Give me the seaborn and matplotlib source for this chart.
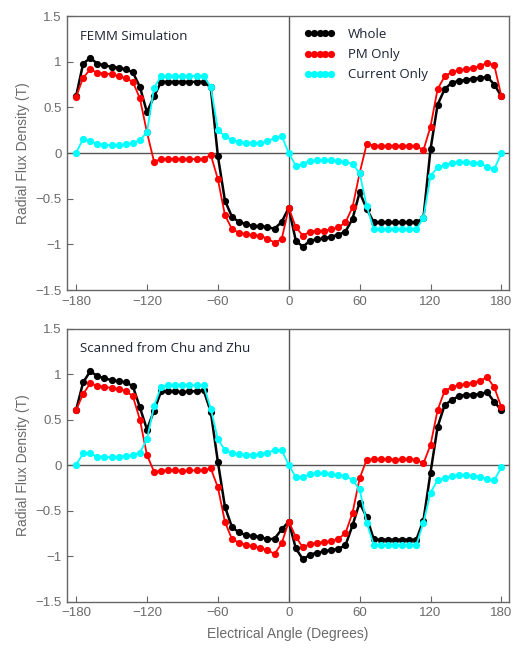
import numpy as np
import pandas as pd
import matplotlib
matplotlib.use("Agg")
import matplotlib.pyplot as plt
import seaborn as sns

# electrical angle grid (degrees)
angles = list(range(-180, 181, 6))

# FEMM simulation
femm_whole = [0.62, 0.98, 1.04, 0.98, 0.96, 0.945, 0.935, 0.915, 0.885, 0.725,
              0.447, 0.62, 0.78, 0.78, 0.78, 0.78, 0.78, 0.78, 0.78, 0.72,
              -0.03, -0.52, -0.70, -0.755, -0.777, -0.80, -0.80, -0.813, -0.828, -0.755,
              -0.60, -0.96, -1.026, -0.96, -0.945, -0.935, -0.916, -0.894, -0.86, -0.72,
              -0.43, -0.61, -0.76, -0.76, -0.76, -0.76, -0.76, -0.76, -0.76, -0.71,
              0.04, 0.53, 0.70, 0.77, 0.79, 0.80, 0.816, 0.82, 0.835, 0.75, 0.62]
femm_pm = [0.615, 0.824, 0.916, 0.88, 0.87, 0.865, 0.84, 0.82, 0.78, 0.60,
           0.227, -0.095, -0.066, -0.066, -0.066, -0.066, -0.066, -0.066, -0.066, -0.018,
           -0.286, -0.678, -0.835, -0.872, -0.89, -0.90, -0.905, -0.938, -0.98, -0.945,
           -0.60, -0.813, -0.905, -0.86, -0.85, -0.85, -0.835, -0.813, -0.76, -0.593,
           -0.22, 0.10, 0.08, 0.08, 0.08, 0.08, 0.08, 0.08, 0.08, 0.03,
           0.29, 0.70, 0.84, 0.886, 0.905, 0.92, 0.935, 0.95, 0.99, 0.96, 0.62]
femm_current = [0.0, 0.157, 0.128, 0.10, 0.088, 0.088, 0.088, 0.095, 0.11, 0.14,
                0.227, 0.714, 0.842, 0.842, 0.842, 0.842, 0.842, 0.842, 0.842, 0.725,
                0.256, 0.183, 0.147, 0.117, 0.11, 0.11, 0.11, 0.128, 0.165, 0.19,
                0.0, -0.14, -0.117, -0.088, -0.08, -0.08, -0.08, -0.085, -0.10, -0.117,
                -0.22, -0.58, -0.835, -0.835, -0.835, -0.835, -0.835, -0.835, -0.835, -0.71,
                -0.25, -0.158, -0.13, -0.11, -0.10, -0.10, -0.11, -0.11, -0.155, -0.176, 0.0]

# scanned from Chu and Zhu
scan_whole = [0.604, 0.908, 1.03, 0.978, 0.952, 0.934, 0.92, 0.908, 0.868, 0.634,
              0.39, 0.597, 0.81, 0.81, 0.81, 0.80, 0.81, 0.81, 0.82, 0.586,
              0.037, -0.458, -0.685, -0.74, -0.773, -0.78, -0.79, -0.817, -0.81, -0.707,
              -0.623, -0.916, -1.037, -0.985, -0.963, -0.95, -0.934, -0.92, -0.883, -0.663,
              -0.414, -0.575, -0.817, -0.82, -0.82, -0.82, -0.82, -0.82, -0.82, -0.61,
              -0.084, 0.42, 0.66, 0.714, 0.758, 0.77, 0.773, 0.78, 0.80, 0.692, 0.604]
scan_pm = [0.604, 0.78, 0.897, 0.872, 0.86, 0.846, 0.835, 0.813, 0.758, 0.50,
           0.11, -0.073, -0.062, -0.06, -0.06, -0.062, -0.06, -0.06, -0.06, -0.037,
           -0.245, -0.623, -0.817, -0.853, -0.879, -0.89, -0.916, -0.934, -0.978, -0.861,
           -0.623, -0.79, -0.905, -0.868, -0.853, -0.846, -0.839, -0.81, -0.75, -0.524,
           -0.147, 0.06, 0.062, 0.062, 0.062, 0.06, 0.062, 0.062, 0.06, 0.018,
           0.22, 0.604, 0.817, 0.853, 0.879, 0.89, 0.905, 0.927, 0.963, 0.853, 0.634]
scan_current = [0.0, 0.128, 0.128, 0.092, 0.092, 0.084, 0.092, 0.10, 0.11, 0.136,
                0.282, 0.648, 0.86, 0.875, 0.875, 0.875, 0.875, 0.875, 0.875, 0.62,
                0.282, 0.165, 0.136, 0.117, 0.11, 0.11, 0.117, 0.136, 0.165, 0.165,
                0.0, -0.135, -0.135, -0.10, -0.092, -0.092, -0.10, -0.11, -0.12, -0.165,
                -0.267, -0.634, -0.879, -0.879, -0.879, -0.879, -0.879, -0.879, -0.879, -0.634,
                -0.304, -0.165, -0.147, -0.12, -0.114, -0.114, -0.12, -0.128, -0.158, -0.165, -0.026]

series_names = ["Whole", "PM Only", "Current Only"]
colors = {"Whole": "black", "PM Only": "#ff0000", "Current Only": "#00ffff"}
widths = {"Whole": 1.8, "PM Only": 1.3, "Current Only": 1.3}

panels = [
    ("FEMM Simulation", [femm_whole, femm_pm, femm_current]),
    ("Scanned from Chu and Zhu", [scan_whole, scan_pm, scan_current]),
]

sns.set_style("white")
plt.rcParams['font.family'] = ['Liberation Sans', 'DejaVu Sans']

gray = "#6a6a6a"
frame = "#666666"

fig = plt.figure(figsize=(5.2, 6.5), dpi=100)
axes = [fig.add_axes([0.129, 0.5538, 0.850, 0.4215]),
        fig.add_axes([0.129, 0.0746, 0.850, 0.4200])]

for ax, (title, vals) in zip(axes, panels):
    ax.axhline(0, color="#555555", lw=1.0, zorder=1)
    ax.axvline(0, color="#555555", lw=1.0, zorder=1)
    for name, v in zip(series_names, vals):
        df = pd.DataFrame({"angle": angles, "B": v})
        sns.lineplot(data=df, x="angle", y="B", ax=ax, color=colors[name],
                     lw=widths[name], marker="o", markersize=5.2,
                     markeredgewidth=0, label=name, zorder=3)
    ax.set_xlim(-187.6, 186.5)
    ax.set_ylim(-1.5, 1.5)
    ax.set_xticks([-180, -120, -60, 0, 60, 120, 180])
    ax.set_xticklabels(["\u2212180", "\u2212120", "\u221260", "0", "60", "120", "180"])
    ax.set_yticks([-1.5, -1, -0.5, 0, 0.5, 1, 1.5])
    ax.set_yticklabels(["\u22121.5", "\u22121", "\u22120.5", "0", "0.5", "1", "1.5"])
    ax.tick_params(direction="in", length=4, width=0.8, color=frame,
                   labelcolor=gray, labelsize=9.5, pad=4,
                   bottom=True, left=True, top=False, right=False)
    for sp in ax.spines.values():
        sp.set_color(frame)
        sp.set_linewidth(1.0)
    ax.set_ylabel("Radial Flux Density (T)", color=gray, fontsize=10, labelpad=4)
    ax.set_xlabel("")
    ax.text(0.03, 0.925, title, transform=ax.transAxes, fontsize=9.5,
            family=["Open Sans", "DejaVu Sans"], color="#1a2233", va="center")
    ax.get_legend().remove()

leg = axes[0].legend(loc="upper left", bbox_to_anchor=(0.51, 1.0), frameon=False,
                     numpoints=5, handlelength=2.3, labelspacing=0.55,
                     handletextpad=1.0, prop={"family": "Open Sans", "size": 9.5})
for t in leg.get_texts():
    t.set_color("#1a2233")

axes[1].set_xlabel("Electrical Angle (Degrees)", color=gray, fontsize=10, labelpad=6)

fig.savefig("out.png", dpi=100)
